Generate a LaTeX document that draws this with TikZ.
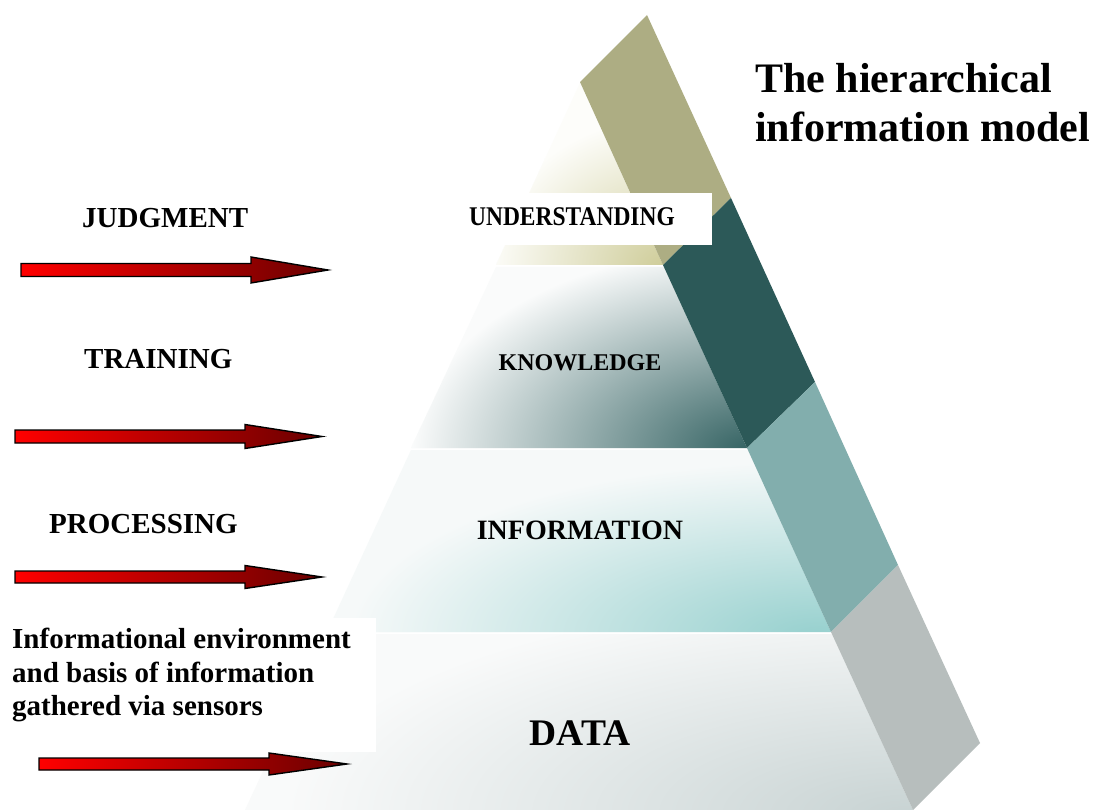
\documentclass[tikz,border=0pt]{standalone}
\usepackage{fontspec}
\setmainfont{Liberation Serif}
\usepackage{graphicx}
\usetikzlibrary{shadings}
\definecolor{khaki}{RGB}{173,173,131}
\definecolor{darkteal}{RGB}{44,89,88}
\definecolor{lteal}{RGB}{130,174,173}
\definecolor{greyband}{RGB}{183,190,189}
\definecolor{arrowdark}{RGB}{105,0,0}
\definecolor{arrowred}{RGB}{255,0,0}
\definecolor{uIn}{RGB}{206,204,152}
\definecolor{uOut}{RGB}{253,253,250}
\definecolor{kIn}{RGB}{50,97,97}
\definecolor{kOut}{RGB}{250,251,251}
\definecolor{iIn}{RGB}{150,208,206}
\definecolor{iOut}{RGB}{246,249,249}
\definecolor{dIn}{RGB}{200,211,211}
\definecolor{dOut}{RGB}{249,250,250}
\newcommand{\hiarrow}[6]{%
  \shadedraw[arrowstyle] (#1,#4-#5) -- (#2,#4-#5) -- (#2,#4-#6) -- (#3,#4)
    -- (#2,#4+#6) -- (#2,#4+#5) -- (#1,#4+#5) -- cycle;}
\begin{document}
\begin{tikzpicture}[x=1pt,y=-1pt,
  arrowstyle/.style={left color=arrowred, right color=arrowdark, draw=black, line width=1.4pt, line join=miter},
  titlefont/.style={font=\bfseries\fontsize{42}{50}\selectfont, inner sep=0, anchor=base west},
  sidelbl/.style={font=\bfseries\fontsize{29}{34}\selectfont, inner sep=0, anchor=base west},
  pyrlbl/.style={font=\bfseries\fontsize{24}{28}\selectfont, inner sep=0, anchor=base}]
\useasboundingbox (0,0) rectangle (1101,810);
\fill[white] (0,0) rectangle (1101,810);

% left faces of the pyramid
\begin{scope}
  \clip (580,83) -- (496,265) -- (663,265) -- cycle;
  \fill[uOut] (400,0) rectangle (800,300);
  \shade[inner color=uIn, outer color=uOut] (665,268) ellipse (175 and 150);
\end{scope}
\begin{scope}
  \clip (496,267) -- (411,448) -- (747,448) -- (664,267) -- cycle;
  \fill[kOut] (400,260) rectangle (800,450);
  \shade[inner color=kIn, outer color=kOut] (752,452) ellipse (340 and 205);
\end{scope}
\begin{scope}
  \clip (411,450) -- (327,632) -- (831,632) -- (748,450) -- cycle;
  \fill[iOut] (300,440) rectangle (850,640);
  \shade[inner color=iIn, outer color=iOut] (820,636) ellipse (470 and 175);
\end{scope}
\begin{scope}
  \clip (327,634) -- (245,810) -- (913,810) -- (832,634) -- cycle;
  \fill[dOut] (240,630) rectangle (920,812);
  \shade[inner color=dIn, outer color=dOut] (905,814) ellipse (620 and 220);
\end{scope}

% right bands
\fill[khaki] (580,82) -- (647,15) -- (731,198) -- (663,265) -- cycle;
\fill[darkteal] (663,265) -- (731,198) -- (815,382) -- (747,448) -- cycle;
\fill[lteal] (747,448) -- (815,382) -- (898,565) -- (831,632) -- cycle;
\fill[greyband] (831,632) -- (898,565) -- (980,743) -- (913,810) -- cycle;

% white label box and text background
\fill[white] (440,193) rectangle (712,245);
\fill[white] (0,618) rectangle (376,752);

% title
\node[titlefont] (t1) at (755,93) {The hierarchical};
\node[titlefont] (t2) at (755,142) {information model};

% pyramid labels
\node[pyrlbl, font=\bfseries\fontsize{27}{30}\selectfont] (und) at (572,226) {\scalebox{0.87}[1]{UNDERSTANDING}};
\node[pyrlbl] (know) at (580,371) {KNOWLEDGE};
\node[pyrlbl, font=\bfseries\fontsize{28}{32}\selectfont] (info) at (580,539) {INFORMATION};
\node[pyrlbl, font=\bfseries\fontsize{37.5}{42}\selectfont] (data) at (580,745) {DATA};

% side labels
\node[sidelbl] (judg) at (82,228) {JUDGMENT};
\node[sidelbl] (train) at (84,369) {TRAINING};
\node[sidelbl] (proc) at (49,533) {PROCESSING};
\node[sidelbl] (env1) at (12,648) {Informational environment};
\node[sidelbl] (env2) at (12,682) {and basis of information};
\node[sidelbl] (env3) at (12,715) {gathered via sensors};

% arrows
\hiarrow{21}{251}{328}{270}{6.5}{13}
\hiarrow{15}{245}{322}{436.5}{6.5}{12}
\hiarrow{15}{245}{322}{577}{6}{11.5}
\hiarrow{39}{269}{347}{764}{6}{11}
\end{tikzpicture}
\end{document}
